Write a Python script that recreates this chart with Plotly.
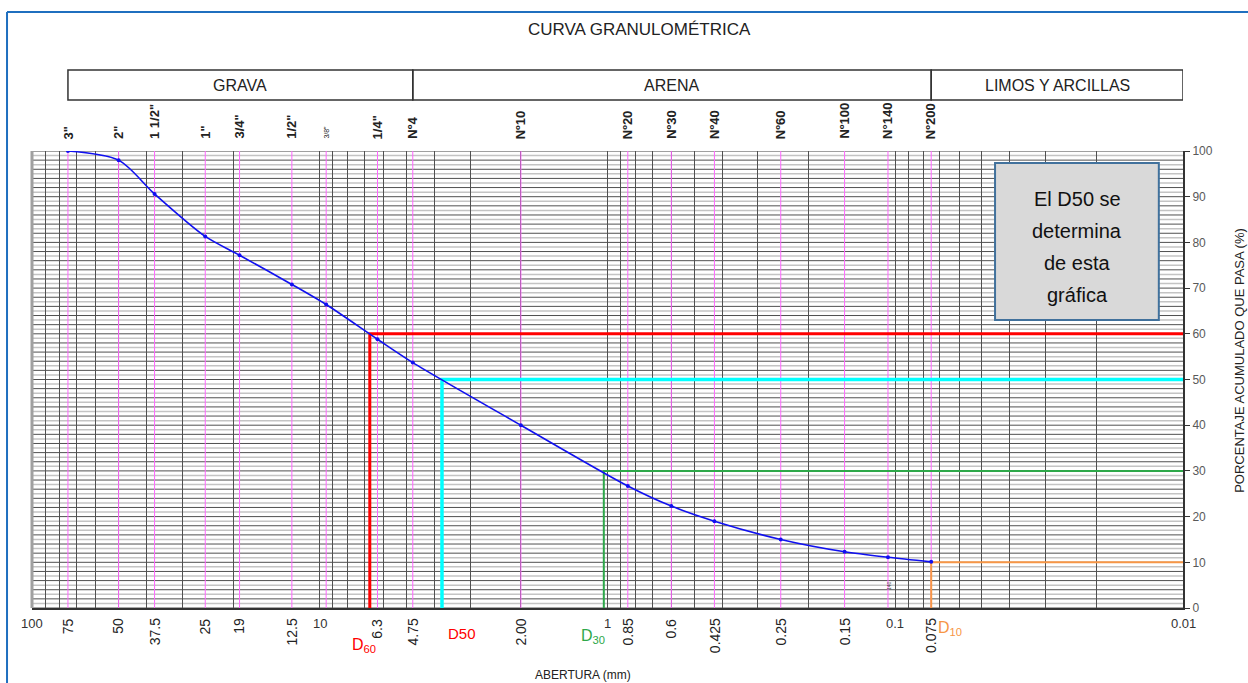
import math
import plotly.graph_objects as go

# ---------------- data ----------------
sieve_mm = [75, 50, 37.5, 25, 19, 12.5, 9.5, 6.3, 4.75, 2.0, 0.85, 0.6, 0.425, 0.25, 0.15, 0.106, 0.075]
sieve_names = ['3"', '2"', '1 1/2"', '1"', '3/4"', '1/2"', '3/8"', '1/4"', 'Nº4', 'Nº10', 'Nº20',
               'Nº30', 'Nº40', 'Nº60', 'Nº100', 'N°140', 'Nº200']
pct_passing = [100, 98, 90.6, 81.3, 77.2, 70.8, 66.4, 58.8, 53.7, 40.0, 26.7, 22.3, 19.0, 15.0, 12.3, 11.1, 10.1]

d_names = ['60', '50', '30', '10']
d_sizes = [6.7, 3.76, 1.03, 0.075]
d_pcts = [60, 50, 30, 10]
d_colors = ['#FF0000', '#00FFFF', '#2EA84A', '#F79646']
d_widths = [3, 3.5, 2, 2]

bottom_vals = [100, 75, 50, 37.5, 25, 19, 12.5, 10, 6.3, 4.75, 2.0, 1, 0.85, 0.6, 0.425, 0.25, 0.15, 0.1, 0.075, 0.01]
bottom_text = ['100', '75', '50', '37.5', '25', '19', '12.5', '10', '6.3', '4.75', '2.00', '1', '0.85', '0.6',
               '0.425', '0.25', '0.15', '0.1', '0.075', '0.01']
decade_text = ['100', '10', '1', '0.1', '0.01']

soil_names = ['GRAVA', 'ARENA', 'LIMOS Y ARCILLAS']
soil_bounds = [75, 4.75, 0.075, 0.01]

y_ticks = list(range(0, 101, 10))

# minor log grid values
grid_x = []
for dec in [0.01, 0.1, 1, 10]:
    for k in range(1, 10):
        grid_x.append(round(k * dec, 6))
grid_x.append(100)

NARROW = 'Liberation Sans Narrow, Arial Narrow, Liberation Sans, Arial, sans-serif'
SANS = 'Liberation Sans, Arial, sans-serif'

fig = go.Figure()

# magenta sieve lines
mx, my = [], []
for v in sieve_mm:
    mx += [v, v, None]
    my += [0, 100, None]
fig.add_trace(go.Scatter(x=mx, y=my, mode='lines', line=dict(color='#FF66FF', width=1),
                         hoverinfo='skip', showlegend=False))

# D lines
for name, ds, dp, c, w in zip(d_names, d_sizes, d_pcts, d_colors, d_widths):
    fig.add_trace(go.Scatter(x=[ds, ds, 0.01], y=[0, dp, dp], mode='lines',
                             line=dict(color=c, width=w), hoverinfo='skip', showlegend=False))

# grading curve
fig.add_trace(go.Scatter(x=sieve_mm, y=pct_passing, mode='lines+markers',
                         line=dict(color='#1010F0', width=1.6, shape='spline', smoothing=0.8),
                         marker=dict(color='#1010F0', size=4), showlegend=False))

shapes = []
# horizontal grid every 1 %
for p in range(0, 101):
    if p == 100:
        col, w = '#A0A0A0', 2
    elif p % 2 == 0:
        col, w = '#505050', 1
    else:
        col, w = '#C4C4C4', 1.5
    shapes.append(dict(type='line', xref='paper', yref='y', x0=0, x1=1, y0=p, y1=p,
                       line=dict(color=col, width=w), layer='below'))
# left border
shapes.append(dict(type='line', xref='paper', yref='paper', x0=0, x1=0, y0=0, y1=1,
                   line=dict(color='#A0A0A0', width=3)))

# header boxes
for i in range(3):
    shapes.append(dict(type='rect', xref='x', yref='paper', x0=soil_bounds[i], x1=soil_bounds[i + 1],
                       y0=1.1116, y1=1.177, line=dict(color='#333333', width=1.5)))

# info box
shapes.append(dict(type='rect', xref='paper', yref='paper', x0=0.8367, x1=0.979, y0=0.630, y1=0.974,
                   fillcolor='#D9D9D9', line=dict(color='#41719C', width=2)))

# blue frame (top & left)
shapes.append(dict(type='line', xref='paper', yref='paper', x0=-0.0217, x1=1.1, y0=1.304, y1=1.304,
                   line=dict(color='#1F6FBF', width=2)))
shapes.append(dict(type='line', xref='paper', yref='paper', x0=-0.0217, x1=-0.0217, y0=-0.2, y1=1.304,
                   line=dict(color='#1F6FBF', width=2)))

ann = []
# title
ann.append(dict(text='CURVA GRANULOMÉTRICA', xref='paper', yref='paper', x=0.528, y=1.265,
                xanchor='center', yanchor='middle',
                showarrow=False, font=dict(family=NARROW, size=17, color='#222222')))
# header texts
for i, nm in enumerate(soil_names):
    xc = (math.log10(soil_bounds[i]) + math.log10(soil_bounds[i + 1])) / 2
    ann.append(dict(text=nm, xref='x', yref='paper', x=xc, y=1.144, xanchor='center', yanchor='middle',
                    showarrow=False, font=dict(family=NARROW, size=16, color='#222222')))
# top sieve names
for v, nm in zip(sieve_mm, sieve_names):
    small = nm == '3/8"'
    ann.append(dict(text='<b>%s</b>' % nm if not small else nm, xref='x', yref='paper',
                    x=math.log10(v), y=1.022, yanchor='bottom', xanchor='center', textangle=-90,
                    showarrow=False, font=dict(family=SANS, size=7 if small else 13, color='#222222')))
# bottom labels
for v, t in zip(bottom_vals, bottom_text):
    if t in decade_text:
        ann.append(dict(text=t, xref='x', yref='paper', x=math.log10(v), y=-0.013, yanchor='top',
                        xanchor='center', showarrow=False,
                        font=dict(family=NARROW, size=13, color='#333333')))
    else:
        ann.append(dict(text=t, xref='x', yref='paper', x=math.log10(v), y=-0.018, yanchor='top',
                        xanchor='center', textangle=-90, showarrow=False,
                        font=dict(family=SANS, size=14, color='#222222')))
# tiny 140 label
ann.append(dict(text='140', xref='x', yref='paper', x=math.log10(0.106), y=0.05, xshift=1,
                xanchor='center', yanchor='middle',
                textangle=-90, showarrow=False, font=dict(family=SANS, size=5, color='#444444')))

# D labels
ann.append(dict(text='D<sub>60</sub>', xref='x', yref='paper', x=math.log10(d_sizes[0]), y=-0.081,
                xanchor='right', yanchor='middle', xshift=8, showarrow=False,
                font=dict(family=NARROW, size=16, color='#FF0000')))
ann.append(dict(text='D50', xref='x', yref='paper', x=math.log10(d_sizes[1]), y=-0.055,
                xanchor='left', yanchor='middle', xshift=4, showarrow=False,
                font=dict(family=NARROW, size=15, color='#FF0000')))
ann.append(dict(text='D<sub>30</sub>', xref='x', yref='paper', x=math.log10(d_sizes[2]), y=-0.062,
                xanchor='right', yanchor='middle', xshift=3, showarrow=False,
                font=dict(family=NARROW, size=16, color='#2EA84A')))
ann.append(dict(text='D<sub>10</sub>', xref='x', yref='paper', x=math.log10(d_sizes[3]), y=-0.045,
                xanchor='left', yanchor='middle', xshift=5, showarrow=False,
                font=dict(family=NARROW, size=16, color='#F79646')))

# info box text
for i, line in enumerate(['El D50 se', 'determina', 'de esta', 'gráfica']):
    ann.append(dict(text=line, xref='paper', yref='paper', x=0.908, y=0.895 - i * 0.07,
                    xanchor='center', yanchor='middle',
                    showarrow=False, font=dict(family=SANS, size=20, color='#111111')))

# axis titles
ann.append(dict(text='ABERTURA (mm)', xref='paper', yref='paper', x=0.479, y=-0.147, showarrow=False,
                xanchor='center', yanchor='middle',
                font=dict(family=NARROW, size=12, color='#222222')))
ann.append(dict(text='PORCENTAJE ACUMULADO QUE PASA (%)', xref='paper', yref='paper', x=1.0495, y=0.543,
                xanchor='center', yanchor='middle',
                textangle=-90, showarrow=False, font=dict(family=SANS, size=13, color='#222222')))

fig.update_layout(
    width=1248, height=683,
    margin=dict(l=32, r=65, t=151, b=75),
    paper_bgcolor='white', plot_bgcolor='white',
    shapes=shapes, annotations=ann,
    xaxis=dict(type='log', range=[2, -2], tickvals=grid_x, showticklabels=False, ticks='',
               showgrid=True, gridcolor='#505050', gridwidth=1, zeroline=False,
               showline=True, linecolor='#333333', linewidth=2),
    yaxis=dict(range=[0, 100], side='right', tickvals=y_ticks, ticks='outside', ticklen=5,
               tickcolor='#333333', showgrid=False, zeroline=False, showline=True,
               linecolor='#333333', linewidth=2,
               tickfont=dict(family=NARROW, size=12, color='#595959')),
    showlegend=False,
)

fig.write_html('out.html', config={'displayModeBar': False},
               post_script="document.body.style.margin='0';")
